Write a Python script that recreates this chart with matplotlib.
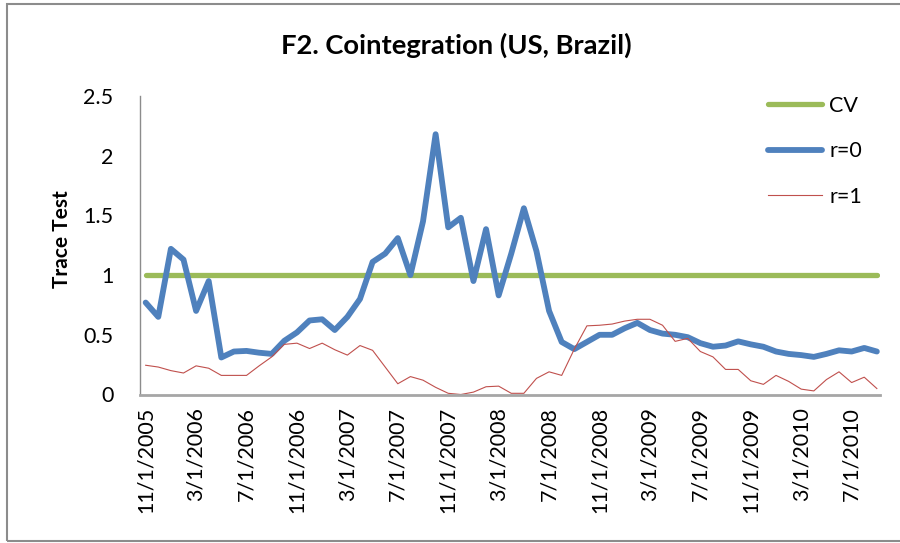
import numpy as np
import matplotlib
matplotlib.use("Agg")
import matplotlib.pyplot as plt
from matplotlib.ticker import FuncFormatter
from matplotlib.patches import Rectangle


TITLE = "F2. Cointegration (US, Brazil)"

# monthly observations, 11/2005 .. 9/2010
TICK_LABELS = [
    "11/1/2005", "3/1/2006", "7/1/2006", "11/1/2006", "3/1/2007",
    "7/1/2007", "11/1/2007", "3/1/2008", "7/1/2008", "11/1/2008",
    "3/1/2009", "7/1/2009", "11/1/2009", "3/1/2010", "7/1/2010",
]

R0 = [
    0.77, 0.65, 1.22, 1.13, 0.70, 0.95, 0.31, 0.36, 0.365, 0.35,
    0.34, 0.45, 0.52, 0.62, 0.63, 0.54, 0.65, 0.80, 1.11, 1.18,
    1.31, 1.00, 1.45, 2.18, 1.40, 1.48, 0.95, 1.385, 0.83, 1.18,
    1.56, 1.20, 0.70, 0.44, 0.38, 0.44, 0.50, 0.50, 0.555, 0.60,
    0.54, 0.51, 0.50, 0.48, 0.43, 0.40, 0.41, 0.445, 0.42, 0.40,
    0.36, 0.34, 0.33, 0.315, 0.34, 0.37, 0.36, 0.39, 0.36,
]

R1 = [
    0.245, 0.23, 0.20, 0.18, 0.24, 0.22, 0.16, 0.16, 0.16, 0.24,
    0.315, 0.42, 0.43, 0.385, 0.43, 0.375, 0.33, 0.41, 0.37, 0.23,
    0.09, 0.15, 0.12, 0.06, 0.01, 0.00, 0.02, 0.065, 0.07, 0.01,
    0.01, 0.135, 0.19, 0.16, 0.38, 0.575, 0.58, 0.59, 0.615, 0.63,
    0.63, 0.58, 0.445, 0.47, 0.36, 0.315, 0.21, 0.21, 0.115, 0.085,
    0.16, 0.11, 0.045, 0.03, 0.125, 0.19, 0.10, 0.145, 0.05,
]

CV = [1.0] * len(R0)

FONT = ["Lato", "DejaVu Sans"]


def main():
    plt.rcParams["font.family"] = FONT

    fig = plt.figure(figsize=(9, 5.43), dpi=100)
    ax = fig.add_axes([140 / 900, 1 - 394.5 / 543, 740 / 900, 298.5 / 543])

    x = np.arange(len(R0))

    ax.plot(x, CV, color="#9BBB59", linewidth=3.8, label="CV",
            solid_capstyle="round")
    ax.plot(x, R0, color="#4F81BD", linewidth=4.2, label="r=0",
            solid_joinstyle="round", solid_capstyle="round")
    ax.plot(x, R1, color="#C0504D", linewidth=0.8, label="r=1")

    ax.set_xlim(-0.45, len(R0) - 1 + 0.25)
    ax.set_ylim(0, 2.5)

    ax.set_xticks(x[::4])
    ax.set_xticklabels(TICK_LABELS, rotation=90, fontsize=15.5)
    ax.set_yticks(np.arange(0, 2.51, 0.5))
    ax.yaxis.set_major_formatter(FuncFormatter(lambda v, p: f"{v:g}"))
    ax.tick_params(axis="y", length=0, pad=19, labelsize=15.5)
    ax.tick_params(axis="x", length=0, pad=9)

    for side in ["top", "right"]:
        ax.spines[side].set_visible(False)
    ax.spines["left"].set_color("#8C8C8C")
    ax.spines["left"].set_linewidth(1.0)
    ax.spines["bottom"].set_color("#A6A6A6")
    ax.spines["bottom"].set_linewidth(2.0)

    ax.set_ylabel("Trace Test", fontsize=15, fontweight="bold")
    ax.yaxis.set_label_coords(-0.092, 0.52)

    fig.text(456 / 900, 1 - 45 / 543, TITLE, ha="center", va="center",
             fontsize=19.7, fontweight="bold")

    ax.legend(
        loc="upper left",
        bbox_to_anchor=(768 / 900, 1 - 96 / 543),
        bbox_transform=fig.transFigure,
        frameon=False,
        fontsize=15.5,
        handlelength=2.5,
        handletextpad=0.35,
        labelspacing=1.18,
        borderpad=0,
        borderaxespad=0,
    )

    # chart border (right edge falls outside the picture)
    fig.patches.append(
        Rectangle((7 / 900, 2 / 543), 1.2, 1 - 6 / 543,
                  transform=fig.transFigure, fill=False,
                  edgecolor="#8C8C8C", linewidth=1.5)
    )

    fig.savefig("out.png", dpi=100)
    plt.close(fig)


if __name__ == "__main__":
    main()
